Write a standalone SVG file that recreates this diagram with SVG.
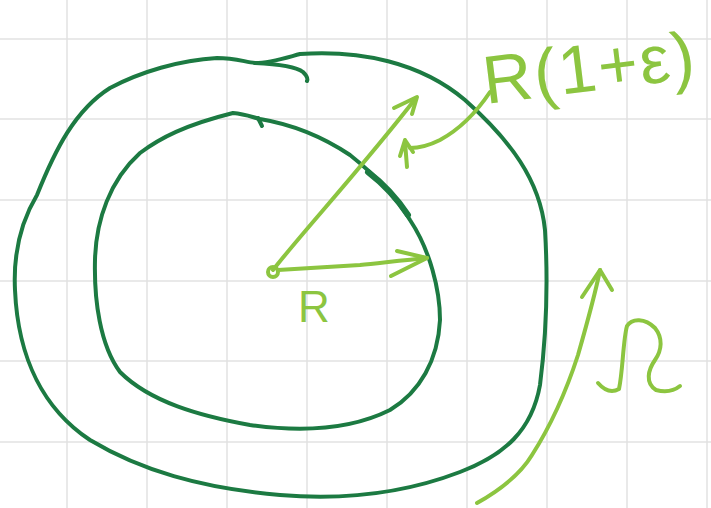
<svg xmlns="http://www.w3.org/2000/svg" width="711" height="508" viewBox="0 0 711 508">
<style>
.grid{stroke:#e2e2e2;stroke-width:1.5}
.dk{fill:none;stroke:#1c7a42;stroke-width:4;stroke-linecap:round;stroke-linejoin:round}
.lt{fill:none;stroke:#8cc540;stroke-width:4;stroke-linecap:round;stroke-linejoin:round}
.lbl{fill:#8cc540;font-family:"Liberation Sans",sans-serif}
</style>
<rect width="711" height="508" fill="#ffffff"/>
<g id="grid">
<path class="grid" d="M67 0V508M147 0V508M227 0V508M307 0V508M387 0V508M467 0V508M547 0V508M627 0V508M707 0V508M0 39H711M0 119H711M0 200H711M0 281H711M0 361H711M0 442H711"/>
</g>
<g id="outer-circle">
<path class="dk" d="M300 54 C360 50 420 62 465 100 C510 140 540 180 545 230 C548 280 547 330 540 385 C532 430 505 455 460 472 C400 495 340 500 280 495 C200 488 140 470 90 440 C45 410 18 360 15 290 C13 250 22 220 37 195 C55 150 75 110 110 88 C140 72 180 60 217 58 C235 58 245 62 255 63 C270 63 285 58 300 54 Z"/>
<path class="dk" d="M255 63 C275 64 295 66 303 72 C307 76 308 79 307 81"/>
</g>
<g id="inner-circle">
<path class="dk" d="M233 113 C245 114 252 117 260 119 C290 124 320 135 350 155 C375 175 395 195 410 220 C430 250 440 290 440 320 C438 360 420 392 390 410 C350 430 300 432 250 425 C200 416 150 402 120 372 C100 345 94 300 95 260 C96 220 110 180 140 153 C160 138 185 125 233 113 Z"/>
<path class="dk" d="M368 172 C385 185 398 200 408 215" style="stroke-width:6"/>
<path class="dk" d="M258 118 L262 126"/>
</g>
<g id="connectors">
<circle cx="273" cy="272" r="5" class="lt"/>
<path class="lt" d="M273 270 C300 235 360 170 416 98"/>
<path class="lt" d="M394 108 L417 97 L412 114"/>
<path class="lt" d="M278 270 C310 268 340 266 360 265 C380 263 405 260 427 258"/>
<path class="lt" d="M397 251 L427 258 L391 276"/>
<path class="lt" d="M490 92 C478 110 462 128 440 140 C428 146 420 148 410 148"/>
<path class="lt" d="M400 156 L405 140 L413 152 M405 142 L407 167"/>
<path class="lt" d="M477 503 C500 490 520 475 532 455 C548 430 565 395 578 355 C588 320 595 295 600 270"/>
<path class="lt" d="M582 297 L600 270 L612 290"/>
</g>
<g id="label-r">
<text class="lbl" x="298" y="322" font-size="44">R</text>
</g>
<g id="label-r1e">
<text class="lbl" x="486" y="104" font-size="68" letter-spacing="2" transform="rotate(-7 486 104)">R(1+ε)</text>
</g>
<g id="label-omega">
<path class="lt" d="M598 383 C605 391 612 393 619 389 C623 370 623 340 627 326 C632 318 645 318 655 328 C663 338 662 350 655 360 C648 370 645 383 656 390 C667 393 675 390 680 386"/>
</g>
</svg>
